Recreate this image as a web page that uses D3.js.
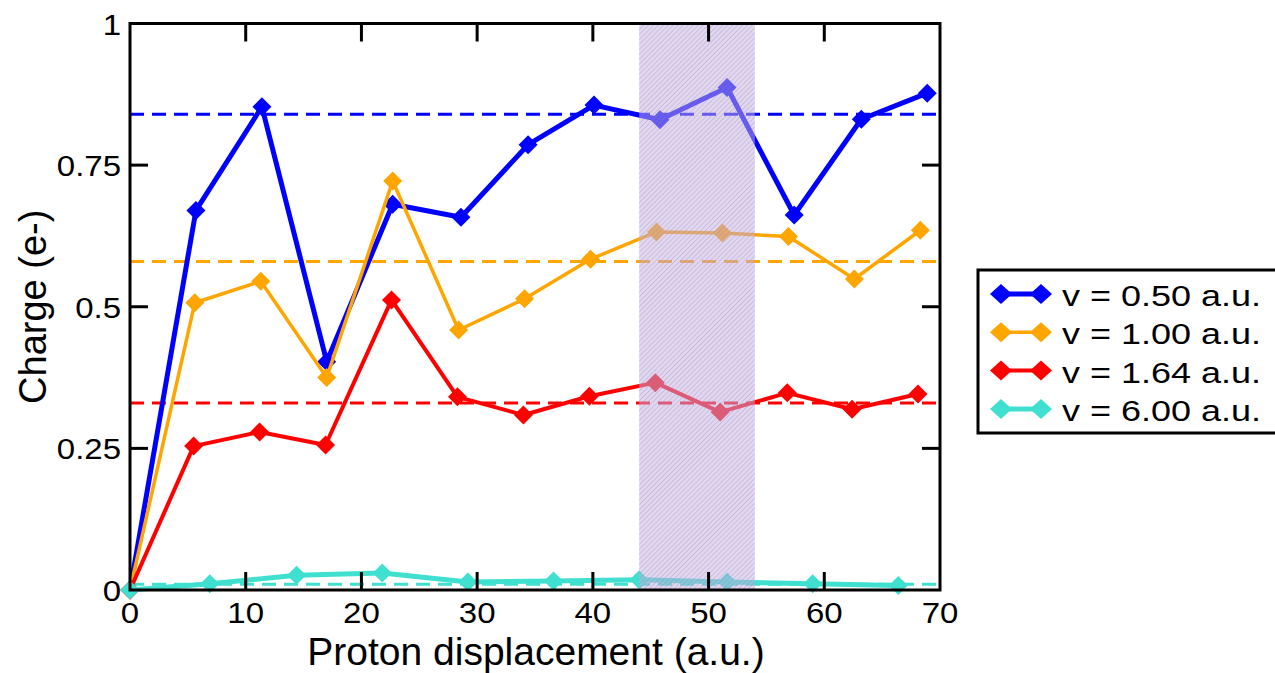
<!DOCTYPE html>
<html>
<head>
<meta charset="utf-8">
<script src="https://cdn.jsdelivr.net/npm/d3@7"></script>
<style>
  html, body { margin: 0; padding: 0; background: #fff; }
  svg { display: block; font-family: "Liberation Sans", Arial, Helvetica, sans-serif; }
</style>
</head>
<body>
<svg id="chart" width="1275" height="673"></svg>
<script>
// Proton charge versus displacement for four projectile velocities
const seriesNames = ["v = 0.50 a.u.", "v = 1.00 a.u.", "v = 1.64 a.u.", "v = 6.00 a.u."];
const seriesColors = ["#0000ff", "#ffa500", "#ff0000", "#40e0d0"];
const seriesWidths = [5, 3.5, 4, 5];

const xV050 = [0, 5.7, 11.4, 17.0, 22.7, 28.6, 34.4, 40.1, 45.8, 51.6, 57.4, 63.2, 68.9];
const qV050 = [0, 0.670, 0.853, 0.403, 0.681, 0.658, 0.786, 0.856, 0.830, 0.887, 0.662, 0.831, 0.877];

const xV100 = [0, 5.6, 11.3, 17.0, 22.7, 28.4, 34.1, 39.8, 45.5, 51.2, 56.9, 62.6, 68.3];
const qV100 = [0, 0.507, 0.545, 0.375, 0.722, 0.459, 0.514, 0.584, 0.632, 0.630, 0.624, 0.549, 0.635];

const xV164 = [0, 5.5, 11.2, 16.9, 22.6, 28.3, 34.0, 39.7, 45.4, 51.0, 56.8, 62.4, 68.1];
const qV164 = [0, 0.254, 0.279, 0.256, 0.512, 0.341, 0.309, 0.342, 0.366, 0.314, 0.348, 0.319, 0.346];

const xV600 = [0, 6.9, 14.4, 21.8, 29.2, 36.6, 44.0, 51.6, 59.0, 66.4];
const qV600 = [0, 0.011, 0.026, 0.030, 0.014, 0.016, 0.018, 0.014, 0.011, 0.008];

// time-averaged charge for each velocity (dashed reference lines)
const meanCharge = [0.84, 0.58, 0.33, 0.01];

// highlighted displacement window
const bandRange = [44, 54];

const xTicks = [0, 10, 20, 30, 40, 50, 60, 70];
const yTicks = [0, 0.25, 0.5, 0.75, 1];
const yTickLabels = ["0", "0.25", "0.5", "0.75", "1"];

const xLabel = "Proton displacement (a.u.)";
const yLabel = "Charge (e-)";

const series = [
  { xs: xV050, ys: qV050 },
  { xs: xV100, ys: qV100 },
  { xs: xV164, ys: qV164 },
  { xs: xV600, ys: qV600 }
].map((s, i) => ({
  name: seriesNames[i], color: seriesColors[i], width: seriesWidths[i], mean: meanCharge[i],
  points: s.xs.map((x, j) => ({ x, y: s.ys[j] }))
}));

const svg = d3.select("#chart");
const plotL = 130, plotR = 940, plotT = 23.5, plotB = 590;
const x = d3.scaleLinear().domain([0, 70]).range([plotL, plotR]);
const y = d3.scaleLinear().domain([0, 1]).range([plotB, plotT]);

// hatch pattern for the highlighted window
const defs = svg.append("defs");
const pat = defs.append("pattern")
  .attr("id", "hatch").attr("patternUnits", "userSpaceOnUse")
  .attr("width", 3.5).attr("height", 3.5)
  .attr("patternTransform", "rotate(45)");
pat.append("rect").attr("width", 3.5).attr("height", 3.5).attr("fill", "rgba(196,178,222,0.5)");
pat.append("line").attr("x1", 0).attr("y1", 0).attr("x2", 0).attr("y2", 3.5)
  .attr("stroke", "rgba(150,120,200,0.4)").attr("stroke-width", 1.5);

function diamond(w, h) {
  return `M0,${-h}L${w},0L0,${h}L${-w},0Z`;
}

// dashed mean lines
svg.append("g").selectAll("line").data(series).join("line")
  .attr("x1", x(0)).attr("x2", x(70))
  .attr("y1", d => y(d.mean)).attr("y2", d => y(d.mean))
  .attr("stroke", d => d.color).attr("stroke-width", 3)
  .attr("stroke-dasharray", "14,8");

// series lines and markers
const line = d3.line().x(d => x(d.x)).y(d => y(d.y));
series.forEach(s => {
  const g = svg.append("g");
  g.append("path").datum(s.points).attr("d", line)
    .attr("fill", "none").attr("stroke", s.color).attr("stroke-width", s.width)
    .attr("stroke-linejoin", "round");
  g.selectAll("path.m").data(s.points).join("path").attr("class", "m")
    .attr("d", diamond(9.5, 9.5))
    .attr("transform", d => `translate(${x(d.x)},${y(d.y)})`)
    .attr("fill", s.color);
});

// highlighted window on top of the data
svg.append("rect")
  .attr("x", x(bandRange[0])).attr("y", y(1))
  .attr("width", x(bandRange[1]) - x(bandRange[0]))
  .attr("height", y(0) - y(1))
  .attr("fill", "url(#hatch)");

// frame and inward ticks on all four sides
const axisW = 3, tickLen = 18;
const frame = svg.append("g").attr("stroke", "#000").attr("stroke-width", axisW);
frame.append("rect").attr("x", plotL).attr("y", plotT)
  .attr("width", plotR - plotL).attr("height", plotB - plotT).attr("fill", "none");
xTicks.slice(1, -1).forEach(t => {
  frame.append("line").attr("x1", x(t)).attr("x2", x(t)).attr("y1", plotB).attr("y2", plotB - tickLen);
  frame.append("line").attr("x1", x(t)).attr("x2", x(t)).attr("y1", plotT).attr("y2", plotT + tickLen);
});
yTicks.slice(1, -1).forEach(t => {
  frame.append("line").attr("y1", y(t)).attr("y2", y(t)).attr("x1", plotL).attr("x2", plotL + tickLen);
  frame.append("line").attr("y1", y(t)).attr("y2", y(t)).attr("x1", plotR).attr("x2", plotR - tickLen);
});

// tick labels
const tickFont = 30, tickStretch = 1.1;
svg.append("g").selectAll("text").data(xTicks).join("text")
  .attr("transform", d => `translate(${x(d)},${plotB + 33}) scale(${tickStretch},1)`)
  .attr("text-anchor", "middle").attr("font-size", tickFont).attr("fill", "#000")
  .text(d => d);
svg.append("g").selectAll("text").data(yTicks).join("text")
  .attr("transform", d => `translate(${plotL - 9},${y(d) + 11}) scale(${tickStretch},1)`)
  .attr("text-anchor", "end").attr("font-size", tickFont).attr("fill", "#000")
  .text((d, i) => yTickLabels[i]);

// axis titles
svg.append("text")
  .attr("x", (plotL + plotR) / 2 + 1).attr("y", 665)
  .attr("text-anchor", "middle").attr("font-size", 39).attr("fill", "#000")
  .text(xLabel);
svg.append("text")
  .attr("transform", `translate(46,${(plotT + plotB) / 2}) rotate(-90)`)
  .attr("text-anchor", "middle").attr("font-size", 38).attr("fill", "#000")
  .text(yLabel);

// legend
const lg = svg.append("g");
lg.append("rect").attr("x", 978).attr("y", 270).attr("width", 330).attr("height", 163)
  .attr("fill", "#fff").attr("stroke", "#000").attr("stroke-width", 3);
series.forEach((s, i) => {
  const cy = 294 + i * 38.3;
  lg.append("line").attr("x1", 1001).attr("x2", 1041).attr("y1", cy).attr("y2", cy)
    .attr("stroke", s.color).attr("stroke-width", s.width);
  [1001, 1041].forEach(cx => lg.append("path").attr("d", diamond(11, 10))
    .attr("transform", `translate(${cx},${cy})`).attr("fill", s.color));
  lg.append("text")
    .attr("transform", `translate(1062,${cy + 12}) scale(1.2,1)`)
    .attr("font-size", 30).attr("fill", "#000")
    .text(s.name);
});
</script>
</body>
</html>
